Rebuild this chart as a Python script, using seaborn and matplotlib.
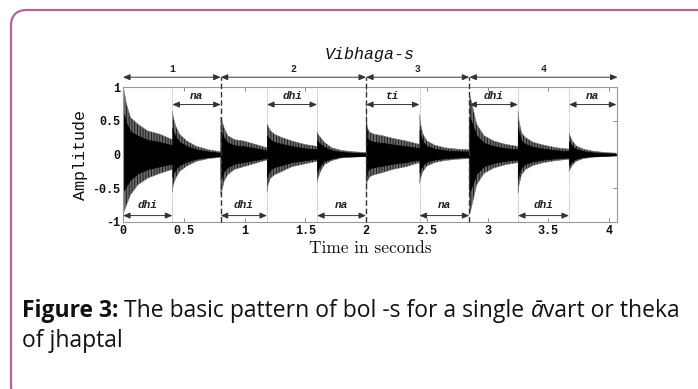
import numpy as np
import pandas as pd
import matplotlib
matplotlib.use("Agg")
import matplotlib.pyplot as plt
import seaborn as sns
from matplotlib.patches import FancyBboxPatch
from matplotlib.transforms import IdentityTransform

# ---------------- data ----------------
onsets = [0.0, 0.406, 0.804, 1.185, 1.597, 2.0, 2.44, 2.85, 3.25, 3.67]
end_time = 4.06
bols = ["dhi", "na", "dhi", "dhi", "na", "ti", "na", "dhi", "dhi", "na"]
bol_side = ["low", "high", "low", "high", "low", "high", "low", "high", "low", "high"]

# envelope sample positions as fraction of each stroke's duration
env_frac = [0.0, 0.02, 0.07, 0.15, 0.3, 0.5, 0.75, 1.0]
env_upper = [
    [1.00, 0.95, 0.75, 0.55, 0.45, 0.35, 0.30, 0.22],
    [0.64, 0.55, 0.42, 0.30, 0.20, 0.12, 0.07, 0.04],
    [0.55, 0.52, 0.40, 0.28, 0.22, 0.20, 0.15, 0.10],
    [0.45, 0.42, 0.35, 0.30, 0.25, 0.20, 0.15, 0.12],
    [0.34, 0.30, 0.25, 0.18, 0.10, 0.06, 0.04, 0.03],
    [0.75, 0.40, 0.33, 0.30, 0.28, 0.24, 0.20, 0.15],
    [0.59, 0.45, 0.30, 0.20, 0.14, 0.10, 0.08, 0.07],
    [0.89, 0.85, 0.70, 0.45, 0.28, 0.20, 0.15, 0.12],
    [0.64, 0.50, 0.32, 0.25, 0.18, 0.14, 0.10, 0.08],
    [0.32, 0.28, 0.20, 0.13, 0.08, 0.05, 0.03, 0.02],
]
env_lower = [
    [-0.87, -0.85, -0.75, -0.60, -0.45, -0.35, -0.28, -0.22],
    [-0.55, -0.45, -0.35, -0.25, -0.17, -0.10, -0.06, -0.04],
    [-0.60, -0.55, -0.40, -0.30, -0.22, -0.18, -0.13, -0.08],
    [-0.55, -0.45, -0.35, -0.30, -0.25, -0.18, -0.14, -0.10],
    [-0.40, -0.35, -0.25, -0.15, -0.09, -0.05, -0.04, -0.03],
    [-0.55, -0.40, -0.33, -0.30, -0.27, -0.22, -0.18, -0.12],
    [-0.43, -0.35, -0.25, -0.17, -0.12, -0.09, -0.07, -0.06],
    [-0.87, -0.85, -0.70, -0.45, -0.28, -0.20, -0.15, -0.12],
    [-0.57, -0.45, -0.30, -0.22, -0.16, -0.12, -0.09, -0.07],
    [-0.25, -0.22, -0.16, -0.10, -0.06, -0.04, -0.03, -0.02],
]

vibhaga_bounds = [0.0, 0.804, 2.0, 2.85, 4.07]
vibhaga_labels = ["1", "2", "3", "4"]

x_ticks = [0, 0.5, 1, 1.5, 2, 2.5, 3, 3.5, 4]
x_ticklabels = ["0", "0.5", "1", "1.5", "2", "2.5", "3", "3.5", "4"]
y_ticks = [-1, -0.5, 0, 0.5, 1]
y_ticklabels = ["-1", "-0.5", "0", "0.5", "1"]

# ---------------- build envelope table ----------------
rows = []
stroke_ends = onsets[1:] + [end_time]
for i, (t0, t1) in enumerate(zip(onsets, stroke_ends)):
    for f, up, lo in zip(env_frac, env_upper[i], env_lower[i]):
        rows.append({"time": t0 + f * (t1 - t0) * 0.999, "upper": up, "lower": lo, "stroke": i})
env = pd.DataFrame(rows)
CORE = 0.62  # dense black core vs. outer spikes (style)
env["core_up"] = env["upper"] * CORE
env["core_lo"] = env["lower"] * CORE

# ---------------- figure ----------------
sns.set_theme(style="white")
plt.rcParams["axes.unicode_minus"] = False
plt.rcParams["hatch.linewidth"] = 0.6
fig = plt.figure(figsize=(6.98, 3.89), dpi=100)

border = FancyBboxPatch((11, -12), 703, 391, boxstyle="round,pad=0,rounding_size=16",
                        transform=IdentityTransform(), fill=False,
                        edgecolor="#b5649a", linewidth=1.6, zorder=0)
fig.patches.append(border)

ax = fig.add_axes([123 / 698, 1 - 222 / 389, (617 - 123) / 698, (222 - 87) / 389])

ax.fill_between(env["time"], env["lower"], env["upper"], facecolor="#6a6a6a",
                edgecolor="#111111", hatch="||||||", linewidth=0.0, zorder=2)
ax.fill_between(env["time"], env["core_lo"], env["core_up"], color="black",
                linewidth=0.5, zorder=2.5)
sns.lineplot(data=env, x="time", y="upper", units="stroke", estimator=None,
             color="#777777", linewidth=0.4, ax=ax, zorder=2)
sns.lineplot(data=env, x="time", y="lower", units="stroke", estimator=None,
             color="#777777", linewidth=0.4, ax=ax, zorder=2)

ax.set_xlim(0, 4.065)
ax.set_ylim(-1, 1)

mono = "Liberation Mono"
# onset lines
for t in onsets[1:]:
    if t in vibhaga_bounds:
        ax.plot([t, t], [-1, 1.145], color="#333333", lw=1.0, ls=(0, (4, 2)),
                clip_on=False, zorder=3)
    else:
        ax.axvline(t, color="#b0b0b0", lw=0.7, ls=(0, (1, 1)), zorder=1)

# bol arrows and labels
for t0, t1, b, side in zip(onsets, stroke_ends, bols, bol_side):
    ya, yl = (0.74, 0.79) if side == "high" else (-0.905, -0.82)
    ax.annotate("", xy=(t1, ya), xytext=(t0, ya),
                arrowprops=dict(arrowstyle="<|-|>,head_length=0.35,head_width=0.15",
                                color="#333333", lw=0.7, shrinkA=0, shrinkB=0), zorder=4)
    ax.text((t0 + t1) / 2, yl, b, ha="center", va="bottom", fontsize=8,
            family=mono, style="italic", weight="bold", color="#222222", zorder=4)

# vibhaga arrows
for a, b, lab in zip(vibhaga_bounds[:-1], vibhaga_bounds[1:], vibhaga_labels):
    ax.annotate("", xy=(b, 1.145), xytext=(a, 1.145), annotation_clip=False,
                arrowprops=dict(arrowstyle="<|-|>,head_length=0.35,head_width=0.15",
                                color="#333333", lw=0.7, shrinkA=0, shrinkB=0))
    ax.text((a + b) / 2, 1.2, lab, ha="center", va="bottom", fontsize=7,
            family=mono, weight="bold", color="#222222")

ax.set_xticks(x_ticks)
ax.set_xticklabels(x_ticklabels, family=mono, weight="bold", fontsize=8.5)
ax.set_yticks(y_ticks)
ax.set_yticklabels(y_ticklabels, family=mono, weight="bold", fontsize=8.5)
ax.tick_params(direction="in", length=3, width=0.6, color="#777777",
               top=True, right=True, bottom=True, left=True, pad=2, labelcolor="#111111")
for s in ax.spines.values():
    s.set_color("#999999")
    s.set_linewidth(0.8)

ax.set_ylabel("Amplitude", family=mono, fontsize=12, color="#111111", labelpad=3)
ax.set_xlabel("Time in seconds", fontname="cmr10", fontsize=12.5, color="#111111", labelpad=3)
ax.set_title("Vibhaga-s", family=mono, style="italic", fontsize=12, color="#111111", pad=20)

# caption
cap_font = "Open Sans"
cs = 16.5
t1 = fig.text(22 / 698, 1 - 311 / 389, "Figure 3:", fontsize=cs, family=cap_font,
              weight="bold", va="center", color="#111111")
t2 = ax.annotate(" The basic pattern of bol -s for a single ", xy=(1, 0), xycoords=t1,
                 va="bottom", fontsize=cs, family=cap_font, color="#111111",
                 annotation_clip=False)
t3 = ax.annotate("ā", xy=(1, 0), xycoords=t2, va="bottom", fontsize=cs,
                 family=cap_font, style="italic", color="#111111", annotation_clip=False)
t4 = ax.annotate("vart or theka", xy=(1, 0), xycoords=t3, va="bottom", fontsize=cs,
                 family=cap_font, color="#111111", annotation_clip=False)
fig.text(22 / 698, 1 - 341 / 389, "of jhaptal", fontsize=cs, family=cap_font,
         va="center", color="#111111")

fig.savefig("out.png", dpi=100)
